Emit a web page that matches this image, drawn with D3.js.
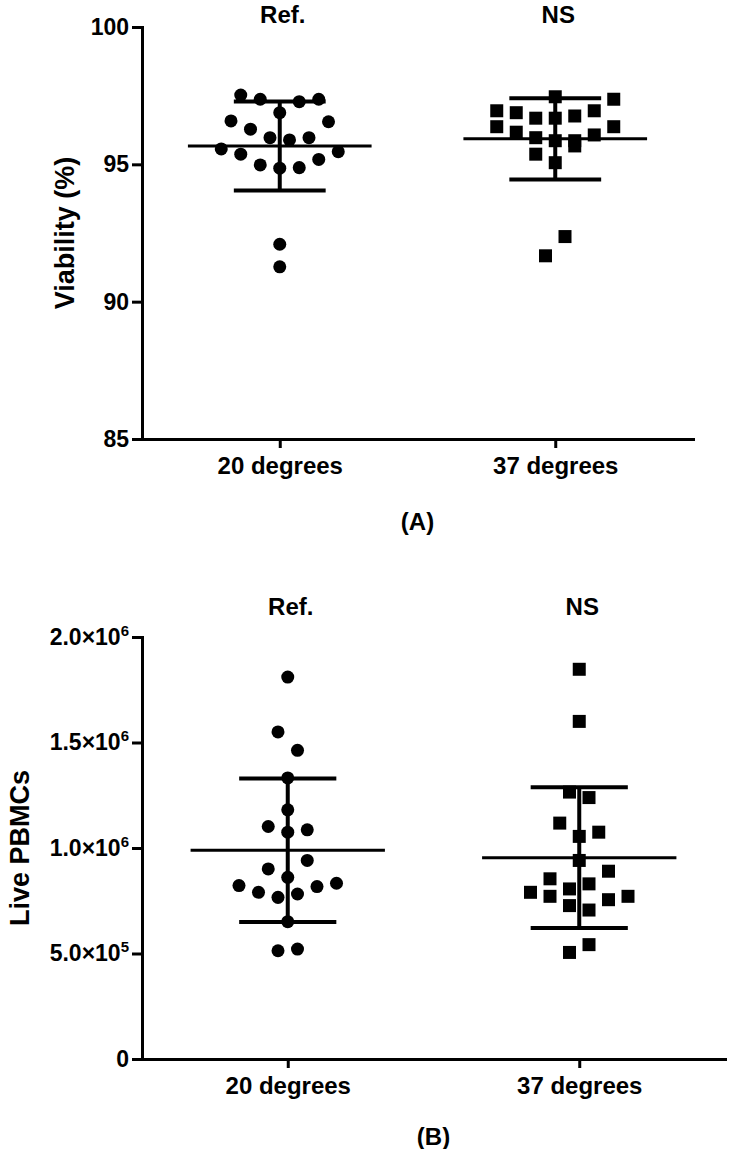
<!DOCTYPE html>
<html><head><meta charset="utf-8">
<script src="https://cdn.jsdelivr.net/npm/d3@7"></script>
<style>html,body{margin:0;padding:0;background:#fff;} svg{display:block;}</style>
</head><body><svg id="chart" width="729" height="1149"></svg>
<script>
// ---------- data ----------
const categories = ["20 degrees", "37 degrees"];
const groupLabels = ["Ref.", "NS"];
// Panel A: viability (%), listed in data-entry order
const viability20 = [97.52, 97.37, 97.37, 97.28, 96.88, 96.58, 96.55, 96.28, 95.97, 95.97,
                     95.89, 95.56, 95.46, 95.37, 95.18, 94.98, 94.88, 94.86, 92.09, 91.27];
const viability37 = [97.46, 96.95, 97.37, 96.88, 96.95, 96.68, 96.76, 96.68, 96.37, 96.37,
                     96.17, 96.07, 95.97, 95.86, 95.86, 95.37, 95.67, 95.06, 91.67, 92.37];
// Panel B: live PBMCs
const pbmc20 = [1810000, 1550000, 1463000, 1332000, 1181000, 1102000, 1086000, 1075000, 901000, 941000,
                861000, 822000, 833000, 790000, 817000, 766000, 782000, 651000, 513000, 521000];
const pbmc37 = [1847000, 1600000, 1265000, 1239000, 1118000, 1075000, 1055000, 941000, 854000, 890000,
                806000, 830000, 790000, 771000, 771000, 755000, 727000, 706000, 505000, 542000];
const viabilityTicks = [85, 90, 95, 100];
const pbmcTicks = [0, 500000, 1000000, 1500000, 2000000];

// ---------- layout ----------
const FONT = "'Liberation Sans', Arial, Helvetica, sans-serif";
const STEP = 19.5;     // horizontal spacing between neighbouring symbols
const ROW_TOL = 19.5;  // vertical tolerance for grouping symbols in a row

const panels = [
  { series: [viability20, viability37], ticks: viabilityTicks, domain: [85, 100], sci: false,
    yTitle: "Viability (%)", label: "(A)",
    left: 142, right: 693, top: 27, bottom: 439, titleY: 23, yTitleX: 65, labelY: 530 },
  { series: [pbmc20, pbmc37], ticks: pbmcTicks, domain: [0, 2000000], sci: true,
    yTitle: "Live PBMCs", label: "(B)",
    left: 142, right: 725, top: 637, bottom: 1059, titleY: 615, yTitleX: 20, labelY: 1145 }
];

function swarmOffsets(values, y) {
  const order = d3.range(values.length).sort((a, b) => d3.ascending(values[a], values[b]));
  const rows = [];
  let cur = null, start = 0;
  for (const i of order) {
    const py = y(values[i]);
    if (cur && Math.abs(start - py) < ROW_TOL) cur.push(i);
    else { cur = [i]; rows.push(cur); start = py; }
  }
  const off = new Array(values.length);
  for (const row of rows) {
    row.sort(d3.ascending);
    const n = row.length;
    row.forEach((idx, p) => {
      const j = p % 2 === 0 ? p / 2 : n - 1 - (p - 1) / 2;
      off[idx] = (j - (n - 1) / 2) * STEP;
    });
  }
  return off;
}

const svg = d3.select("#chart").attr("font-family", FONT);

panels.forEach(p => {
  const g = svg.append("g");
  const x = d3.scalePoint().domain(categories).range([p.left, p.right]).padding(0.5);
  const y = d3.scaleLinear().domain(p.domain).range([p.bottom, p.top]);
  const band = x.step();

  // y axis
  const yAxis = d3.axisLeft(y).tickValues(p.ticks).tickSize(10).tickSizeOuter(0).tickPadding(3)
    .tickFormat(p.sci ? () => "" : d3.format("d"));
  const ya = g.append("g").attr("transform", `translate(${p.left},0)`).call(yAxis)
    .attr("font-family", FONT).attr("font-size", 23).attr("font-weight", "bold");
  ya.select(".domain").attr("stroke", "#000").attr("stroke-width", 3).attr("stroke-linecap", "square");
  ya.selectAll(".tick line").attr("stroke", "#000").attr("stroke-width", 3);
  ya.selectAll(".tick text").attr("fill", "#000");
  if (p.sci) {
    ya.selectAll(".tick text").each(function (d) {
      const t = d3.select(this);
      if (d === 0) { t.text("0"); return; }
      const e = Math.floor(Math.log10(d));
      const m = (d / Math.pow(10, e)).toFixed(1);
      t.append("tspan").text(m + "×10");
      t.append("tspan").attr("dy", -9).attr("font-size", 15).text(e);
    });
  }

  // x axis
  const xa = g.append("g").attr("transform", `translate(0,${p.bottom})`)
    .call(d3.axisBottom(x).tickSize(9).tickSizeOuter(0).tickPadding(9))
    .attr("font-family", FONT).attr("font-size", 24).attr("font-weight", "bold");
  xa.select(".domain").attr("stroke", "#000").attr("stroke-width", 3).attr("stroke-linecap", "square");
  xa.selectAll(".tick line").attr("stroke", "#000").attr("stroke-width", 3);
  xa.selectAll(".tick text").attr("fill", "#000");

  // y title
  g.append("text")
    .attr("transform", `translate(${p.yTitleX},${(p.top + p.bottom) / 2}) rotate(-90)`)
    .attr("text-anchor", "middle").attr("dy", "0.35em")
    .attr("font-size", 27).attr("font-weight", "bold").attr("fill", "#000").text(p.yTitle);

  // panel label
  g.append("text").attr("x", (p.left + p.right) / 2).attr("y", p.labelY)
    .attr("text-anchor", "middle").attr("font-size", 24).attr("font-weight", "bold")
    .attr("fill", "#000").text(p.label);

  p.series.forEach((vals, gi) => {
    const cx = x(categories[gi]);
    const off = swarmOffsets(vals, y);
    const m = d3.mean(vals), sd = d3.deviation(vals);

    g.append("line").attr("x1", cx - band / 3).attr("x2", cx + band / 3)
      .attr("y1", y(m)).attr("y2", y(m)).attr("stroke", "#000").attr("stroke-width", 3);
    g.append("line").attr("x1", cx).attr("x2", cx)
      .attr("y1", y(m - sd)).attr("y2", y(m + sd)).attr("stroke", "#000").attr("stroke-width", 4);
    [m - sd, m + sd].forEach(v => {
      g.append("line").attr("x1", cx - band / 6).attr("x2", cx + band / 6)
        .attr("y1", y(v)).attr("y2", y(v)).attr("stroke", "#000").attr("stroke-width", 4);
    });

    const sym = d3.symbol().type(gi === 0 ? d3.symbolCircle : d3.symbolSquare).size(gi === 0 ? 133 : 169);
    g.append("g").selectAll("path").data(vals).join("path")
      .attr("transform", (d, i) => `translate(${cx + off[i]},${y(d)})`)
      .attr("d", sym).attr("fill", "#000");

    g.append("text").attr("x", cx + 3).attr("y", p.titleY).attr("text-anchor", "middle")
      .attr("font-size", 24).attr("font-weight", "bold").attr("fill", "#000").text(groupLabels[gi]);
  });
});
</script>
</body></html>
